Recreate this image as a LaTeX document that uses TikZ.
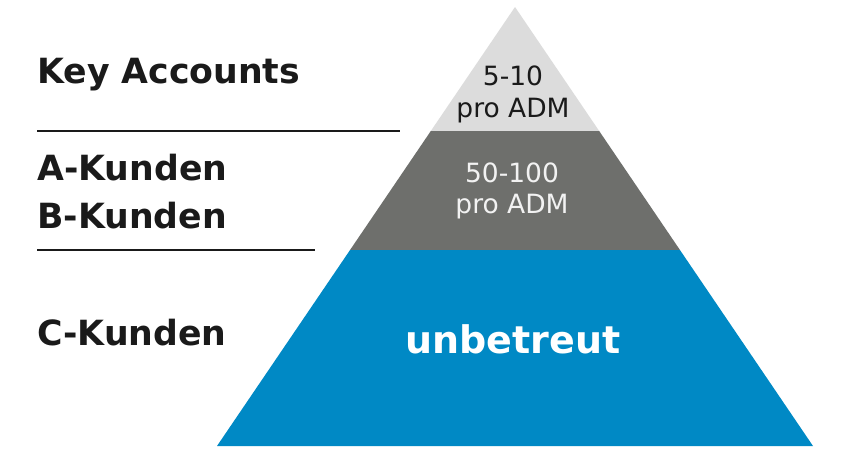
\documentclass[tikz,border=0pt]{standalone}
\usepackage{fontspec}
\usetikzlibrary{calc}
\setmainfont{DejaVu Sans}
\definecolor{tierlight}{HTML}{DCDCDC}
\definecolor{tierdark}{HTML}{6E6F6C}
\definecolor{tierblue}{HTML}{0089C5}
\definecolor{labelink}{HTML}{1A1A1A}
\tikzset{
  sidelabel/.style={anchor=base west, inner sep=0pt, font=\fontsize{34.7}{40}\selectfont\bfseries, text=labelink},
  tiertext/.style={anchor=base, inner sep=0pt, font=\fontsize{26.5}{31}\selectfont},
  sepline/.style={draw=labelink, line width=2.2pt},
}
\begin{document}
\begin{tikzpicture}[x=1pt, y=-1pt]
\path[use as bounding box, fill=white] (0,0) rectangle (850,461);
% pyramid geometry
\coordinate (apex) at (515,7);
\coordinate (bl) at (217,446);
\coordinate (br) at (813,446);
\coordinate (l1) at ($(apex)!{(131-7)/(446-7)}!(bl)$);
\coordinate (r1) at ($(apex)!{(131-7)/(446-7)}!(br)$);
\coordinate (l2) at ($(apex)!{(250-7)/(446-7)}!(bl)$);
\coordinate (r2) at ($(apex)!{(250-7)/(446-7)}!(br)$);
\fill[tierlight] (apex) -- (r1) -- (l1) -- cycle;
\fill[tierdark] (l1) -- (r1) -- (r2) -- (l2) -- cycle;
\fill[tierblue] (l2) -- (r2) -- (br) -- (bl) -- cycle;
% tier texts
\node[tiertext, text=labelink] (t1a) at (513,85) {5-10};
\node[tiertext, text=labelink] (t1b) at (513,117) {pro ADM};
\node[tiertext, text=white!95!black] (t2a) at (512,182) {50-100};
\node[tiertext, text=white!95!black] (t2b) at (512,213) {pro ADM};
\node[anchor=base, inner sep=0pt, font=\fontsize{38}{44}\selectfont\bfseries, text=white] (t3) at (513,353) {unbetreut};
% side labels
\node[sidelabel] (ka) at (37,83) {Key Accounts};
\node[sidelabel] (ak) at (37,180) {A-Kunden};
\node[sidelabel] (bk) at (37,228) {B-Kunden};
\node[sidelabel] (ck) at (37,345) {C-Kunden};
% separator lines
\coordinate (s1a) at (37,131);
\coordinate (s1b) at (400,131);
\coordinate (s2a) at (37,250);
\coordinate (s2b) at (315,250);
\draw[sepline] (s1a) -- (s1b);
\draw[sepline] (s2a) -- (s2b);
\end{tikzpicture}
\end{document}
